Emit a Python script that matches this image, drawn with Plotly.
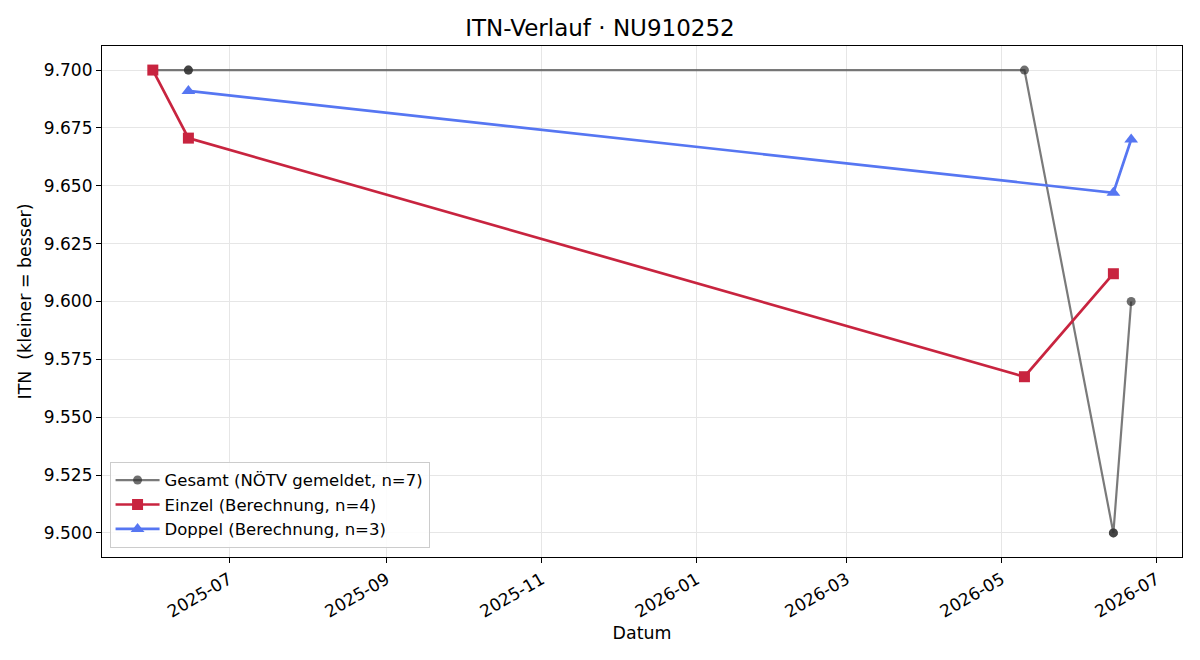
import plotly.graph_objects as go

# Data
gesamt_dates = ["2025-06-01", "2025-06-15", "2025-06-15", "2026-05-10", "2026-06-14", "2026-06-14", "2026-06-21"]
gesamt_vals = [9.700, 9.700, 9.700, 9.700, 9.500, 9.500, 9.600]
einzel_dates = ["2025-06-01", "2025-06-15", "2026-05-10", "2026-06-14"]
einzel_vals = [9.700, 9.6706, 9.5675, 9.612]
doppel_dates = ["2025-06-15", "2026-06-14", "2026-06-21"]
doppel_vals = [9.691, 9.647, 9.670]

FONT = "DejaVu Sans"

fig = go.Figure()
fig.add_trace(go.Scatter(
    x=gesamt_dates, y=gesamt_vals, mode="lines+markers",
    name="Gesamt (NÖTV gemeldet, n=7)",
    line=dict(color="rgba(85,85,85,0.78)", width=2.2),
    marker=dict(symbol="circle", size=9, color="rgba(50,50,50,0.7)", line=dict(width=0)),
))
fig.add_trace(go.Scatter(
    x=einzel_dates, y=einzel_vals, mode="lines+markers",
    name="Einzel (Berechnung, n=4)",
    line=dict(color="#c8243f", width=2.7),
    marker=dict(symbol="square", size=11, color="#c8243f", line=dict(width=0)),
))
fig.add_trace(go.Scatter(
    x=doppel_dates, y=doppel_vals, mode="lines+markers",
    name="Doppel (Berechnung, n=3)",
    line=dict(color="#5676f2", width=2.7),
    marker=dict(symbol="triangle-up", size=12, color="#5676f2", line=dict(width=0)),
))

fig.update_layout(
    width=1200, height=660,
    margin=dict(l=102, r=18, t=46, b=103),
    paper_bgcolor="white", plot_bgcolor="white",
    font=dict(family=FONT, size=17, color="black"),
    title=dict(text="ITN-Verlauf · NU910252", x=0.5, xanchor="center", y=0.957, yanchor="middle",
               font=dict(family=FONT, size=23, color="black")),
    showlegend=True,
    legend=dict(x=0.007, y=0.018, xanchor="left", yanchor="bottom",
                bgcolor="rgba(255,255,255,0.85)", bordercolor="#cccccc", borderwidth=1,
                font=dict(family=FONT, size=16.5), itemwidth=44),
)
fig.update_xaxes(
    type="date", range=["2025-05-12", "2026-07-11"],
    tick0="2025-07-01", dtick="M2", tickformat="%Y-%m", tickangle=-30,
    showgrid=True, gridcolor="#e6e6e6", gridwidth=1,
    showline=True, linecolor="black", linewidth=1.2, mirror=True,
    ticks="outside", ticklen=5, tickcolor="black",
    tickfont=dict(family=FONT, size=17),
    title=dict(text="Datum", font=dict(family=FONT, size=17.4), standoff=6),
    zeroline=False,
)
fig.update_yaxes(
    range=[9.4896, 9.7104], dtick=0.025, tick0=9.5, tickformat=".3f",
    showgrid=True, gridcolor="#e6e6e6", gridwidth=1,
    showline=True, linecolor="black", linewidth=1.2, mirror=True,
    ticks="outside", ticklen=5, tickcolor="black",
    tickfont=dict(family=FONT, size=17),
    title=dict(text="ITN  (kleiner = besser)", font=dict(family=FONT, size=17.4), standoff=7),
    zeroline=False,
)

fig.write_html("out.html")
